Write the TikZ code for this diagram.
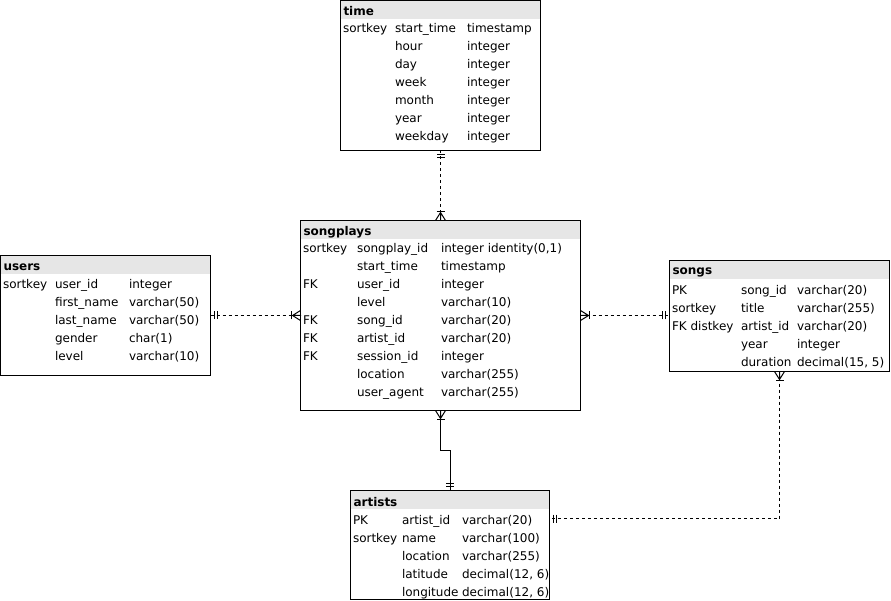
\documentclass[tikz,border=0pt]{standalone}
\usepackage{fontspec}
\setmainfont{DejaVu Sans}
\usetikzlibrary{calc}
\definecolor{hdrgray}{RGB}{230,230,230}
\tikzset{
  tbl/.style={draw=black, line width=1pt, rectangle, anchor=north west, inner sep=0pt, outer sep=0pt},
  cell/.style={anchor=base west, inner sep=0pt, outer sep=0pt, font=\fontsize{12pt}{14pt}\selectfont},
  hdrtext/.style={cell, font=\fontsize{12pt}{14pt}\selectfont\bfseries},
  conn/.style={line width=1pt, black},
  dashconn/.style={conn, dash pattern=on 3pt off 3pt},
  ermark/.style={line width=1pt, black}
}
% table: name, x, y, width, height, header height, title, title baseline
\newcommand\ertable[8]{%
  \fill[hdrgray] (#2,#3) rectangle ++(#4,#6);
  \node[tbl, minimum width=#4pt, minimum height=#5pt] (#1) at (#2,#3) {};
  \node[hdrtext] (#1-title) at (#2+3,#8+1.5) {#7};
}
% rows: x1, x2, x3, first baseline, list
\newcommand\ertrows[5]{%
  \foreach \k/\n/\t [count=\i from 0] in {#5} {
    \node[cell] at (#1,{#4+1.5+18*\i}) {\k};
    \node[cell] at (#2,{#4+1.5+18*\i}) {\n};
    \node[cell] at (#3,{#4+1.5+18*\i}) {\t};
  }
}
% mandatory one marker at point #1, outward angle #2
\newcommand\erone[2]{%
  \begin{scope}[shift={(#1)}, rotate=#2]
    \draw[ermark] (4,-4) -- (4,4) (7,-4) -- (7,4);
  \end{scope}
}
% one-or-many marker
\newcommand\ermany[2]{%
  \begin{scope}[shift={(#1)}, rotate=#2]
    \draw[ermark] (9,-4) -- (9,4);
    \draw[ermark] (0,-5) -- (8,0) -- (0,5) (0,0) -- (8,0);
  \end{scope}
}
\begin{document}
\begin{tikzpicture}[x=1pt,y=-1pt]
\useasboundingbox (0,0) rectangle (891,601);

% time
\ertable{time}{340.5}{0.5}{200}{150}{18.5}{time}{14}
\ertrows{343}{395}{467}{31}{sortkey/start\_time/timestamp, /hour/integer, /day/integer, /week/integer, /month/integer, /year/integer, /weekday/integer}

% songplays
\ertable{songplays}{300.5}{220.5}{280}{190}{18.5}{songplays}{234}
\ertrows{303}{357}{441}{251}{sortkey/songplay\_id/{integer identity(0,1)}, /start\_time/timestamp, FK/user\_id/integer, /level/varchar(10), FK/song\_id/varchar(20), FK/artist\_id/varchar(20), FK/session\_id/integer, /location/varchar(255), /user\_agent/varchar(255)}

% users
\ertable{users}{0.5}{255.5}{210}{120}{18.5}{users}{269}
\ertrows{3}{55}{129}{287}{sortkey/user\_id/integer, /first\_name/varchar(50), /last\_name/varchar(50), /gender/char(1), /level/varchar(10)}

% songs
\ertable{songs}{669.5}{260.5}{220}{111}{18.5}{songs}{273}
\ertrows{672}{741}{797}{293}{PK/song\_id/varchar(20), sortkey/title/varchar(255), FK distkey/artist\_id/varchar(20), /year/integer, /duration/{decimal(15, 5)}}

% artists
\ertable{artists}{350.5}{490.5}{199}{109}{18.5}{artists}{505}
\ertrows{353}{402}{462}{522.5}{PK/artist\_id/varchar(20), sortkey/name/varchar(100), /location/varchar(255), /latitude/{decimal(12, 6)}, /longitude/{decimal(12, 6)}}

% connectors
\coordinate (jog) at (0,450.5);
\coordinate (artrow) at (0,518.5);

\draw[dashconn] (time.south) -- (songplays.north);
\erone{time.south}{-90}
\ermany{songplays.north}{90}

\draw[dashconn] (users.east) -- (users.east -| songplays.west);
\erone{users.east}{0}
\ermany{users.east -| songplays.west}{180}

\draw[dashconn] (songplays.east) -- (songplays.east -| songs.west);
\ermany{songplays.east}{0}
\erone{songplays.east -| songs.west}{180}

\draw[conn] (songplays.south) -- (songplays.south |- jog) -- (artists.north |- jog) -- (artists.north);
\ermany{songplays.south}{-90}
\erone{artists.north}{90}

\draw[dashconn] (songs.south) -- (songs.south |- artrow) -- (artists.east |- artrow);
\ermany{songs.south}{-90}
\erone{artists.east |- artrow}{0}
\end{tikzpicture}
\end{document}
